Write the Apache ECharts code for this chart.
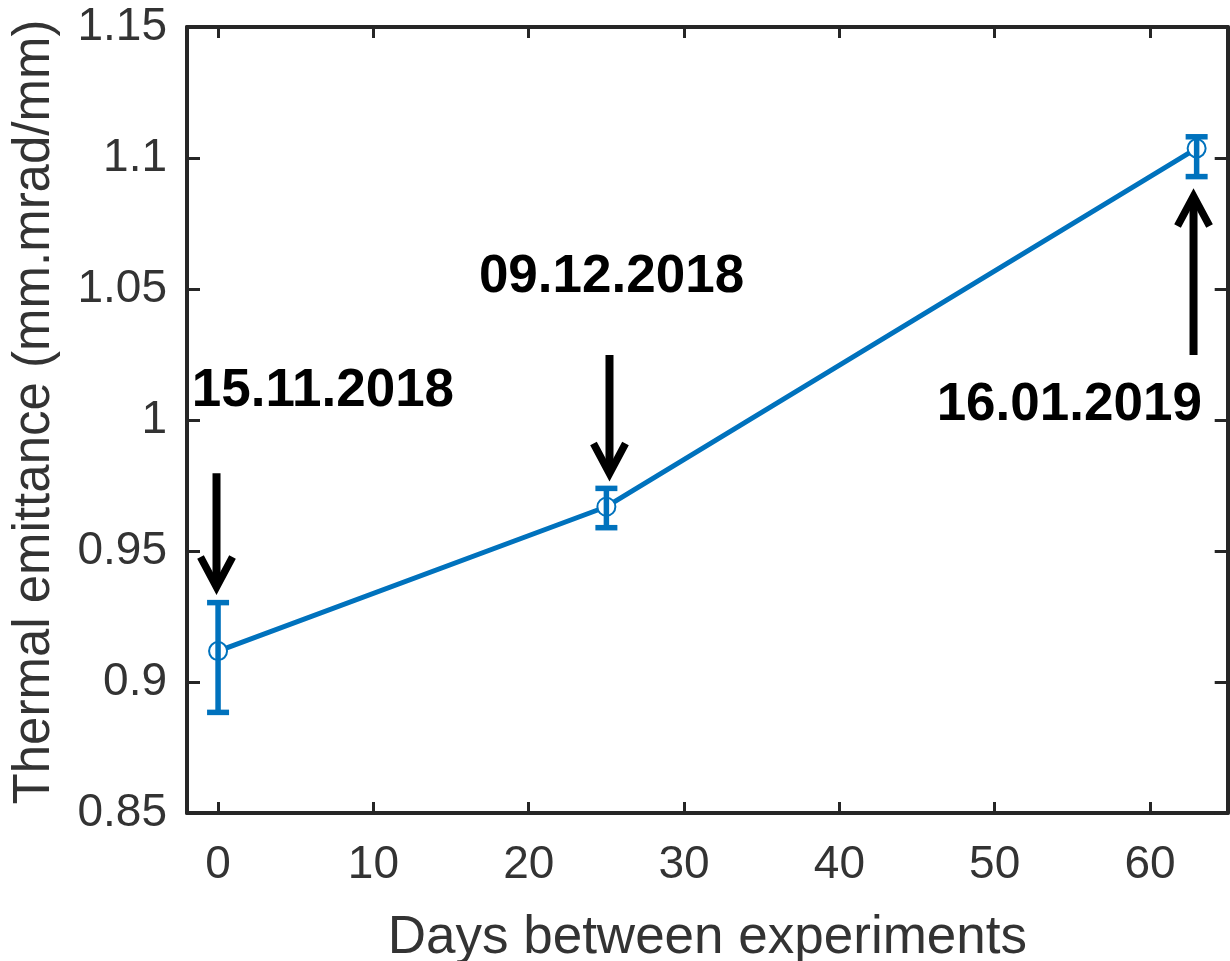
<!DOCTYPE html>
<html>
<head>
<meta charset="utf-8">
<script src="https://cdn.jsdelivr.net/npm/echarts@6/dist/echarts.min.js"></script>
<style>
  html, body { margin: 0; padding: 0; background: #ffffff; }
  #chart { width: 1230px; height: 961px; }
</style>
</head>
<body>
<div id="chart"></div>
<script>
// Measured thermal emittance versus days since the first experiment
const days = [0, 25, 63];
const emittance = [0.9118, 0.9669, 1.1037];
const errLow = [0.8884, 0.9589, 1.0929];
const errHigh = [0.9303, 0.9739, 1.1081];

// Date annotations (arrow x, arrow start, arrow tip, text x, text y), in data units
const noteLabels = ['15.11.2018', '09.12.2018', '16.01.2019'];
const noteArrowX = [-0.1, 25.2, 62.8];
const noteArrowFrom = [0.9797, 1.0248, 1.0248];
const noteArrowTo = [0.9351, 0.9784, 1.0866];
const noteTextX = [6.75, 25.33, 54.8];
const noteTextY = [1.011, 1.0546, 1.0054];

const FONT = "'Liberation Sans', Arial, Helvetica, sans-serif";
const AXIS_COLOR = '#262626';
const TEXT_COLOR = '#333333';
const BLUE = '#0072BD';

const chart = echarts.init(document.getElementById('chart'), null, { renderer: 'canvas' });

const axisLineStyle = { color: AXIS_COLOR, width: 4 };
const tickStyle = { color: AXIS_COLOR, width: 3 };

function xAxisBase(position) {
  return {
    type: 'value',
    position: position,
    min: -2,
    max: 65,
    splitNumber: 7,
    splitLine: { show: false },
    axisLine: { show: true, onZero: false, lineStyle: axisLineStyle },
    axisTick: { show: true, inside: true, length: 11, lineStyle: tickStyle }
  };
}

function yAxisBase(position) {
  return {
    type: 'value',
    position: position,
    min: 0.85,
    max: 1.15,
    interval: 0.05,
    splitLine: { show: false },
    axisLine: { show: true, onZero: false, lineStyle: axisLineStyle },
    axisTick: { show: true, inside: true, length: 13, lineStyle: tickStyle }
  };
}

const option = {
  backgroundColor: '#ffffff',
  animation: false,
  grid: { left: 187, right: 2.3, top: 27, bottom: 148, containLabel: false, outerBoundsMode: 'none' },
  xAxis: [
    Object.assign(xAxisBase('bottom'), {
      name: 'Days between experiments',
      nameLocation: 'middle',
      nameGap: 99,
      nameTextStyle: { fontSize: 53, color: TEXT_COLOR, fontFamily: FONT },
      axisLabel: {
        show: true,
        margin: 29,
        fontSize: 46,
        color: TEXT_COLOR,
        fontFamily: FONT,
        showMinLabel: false,
        showMaxLabel: false,
        formatter: function (v) { return v % 10 === 0 ? String(v) : ''; }
      }
    }),
    Object.assign(xAxisBase('top'), { axisLabel: { show: false } })
  ],
  yAxis: [
    Object.assign(yAxisBase('left'), {
      name: 'Thermal emittance (mm.mrad/mm)',
      nameLocation: 'middle',
      nameGap: 127,
      nameTextStyle: { fontSize: 51, color: TEXT_COLOR, fontFamily: FONT, padding: [0, 0, 0, 16] },
      axisLabel: {
        show: true,
        margin: 20,
        fontSize: 46,
        color: TEXT_COLOR,
        fontFamily: FONT,
        formatter: function (v) { return String(parseFloat(v.toFixed(2))); }
      }
    }),
    Object.assign(yAxisBase('right'), { axisLabel: { show: false } })
  ],
  series: [
    {
      // connecting line with open circle markers
      type: 'line',
      xAxisIndex: 0,
      yAxisIndex: 0,
      data: days.map((d, i) => [d, emittance[i]]),
      symbol: 'emptyCircle',
      symbolSize: 18,
      lineStyle: { color: BLUE, width: 5 },
      itemStyle: { color: BLUE, borderColor: BLUE, borderWidth: 3.5 },
      z: 3
    },
    {
      // vertical error bars with caps
      type: 'custom',
      xAxisIndex: 0,
      yAxisIndex: 0,
      data: days.map((d, i) => [d, errLow[i], errHigh[i]]),
      encode: { x: 0, y: [1, 2] },
      z: 4,
      renderItem: function (params, api) {
        const x = api.value(0);
        const lo = api.coord([x, api.value(1)]);
        const hi = api.coord([x, api.value(2)]);
        const half = 11;
        const st = { stroke: BLUE, lineWidth: 5.5 };
        return {
          type: 'group',
          children: [
            { type: 'line', shape: { x1: lo[0], y1: lo[1], x2: hi[0], y2: hi[1] }, style: st },
            { type: 'line', shape: { x1: lo[0] - half, y1: lo[1], x2: lo[0] + half, y2: lo[1] }, style: st },
            { type: 'line', shape: { x1: hi[0] - half, y1: hi[1], x2: hi[0] + half, y2: hi[1] }, style: st }
          ]
        };
      }
    },
    {
      // date annotations with arrows
      type: 'custom',
      xAxisIndex: 0,
      yAxisIndex: 0,
      clip: false,
      z: 5,
      data: noteLabels.map((t, i) => [noteArrowX[i], noteArrowFrom[i], noteArrowTo[i], noteTextX[i], noteTextY[i], t]),
      renderItem: function (params, api) {
        const ax = api.value(0);
        const from = api.coord([ax, api.value(1)]);
        const tip = api.coord([ax, api.value(2)]);
        const txt = api.coord([api.value(3), api.value(4)]);
        const label = noteLabels[params.dataIndex];
        const dir = tip[1] > from[1] ? 1 : -1;
        const headLen = 33;
        const headHalf = 16;
        return {
          type: 'group',
          children: [
            {
              type: 'line',
              shape: { x1: from[0], y1: from[1], x2: tip[0], y2: tip[1] - dir * 5 },
              style: { stroke: '#000', lineWidth: 8 }
            },
            {
              type: 'polyline',
              shape: { points: [[tip[0] - headHalf, tip[1] - dir * headLen], [tip[0], tip[1] - dir * 3], [tip[0] + headHalf, tip[1] - dir * headLen]] },
              style: { stroke: '#000', lineWidth: 7.5, fill: null, lineJoin: 'miter', lineCap: 'butt' }
            },
            {
              type: 'text',
              style: {
                text: label,
                x: txt[0],
                y: txt[1],
                align: 'center',
                verticalAlign: 'middle',
                font: 'bold 53px ' + FONT,
                fill: '#000'
              }
            }
          ]
        };
      }
    }
  ]
};

chart.setOption(option);
</script>
</body>
</html>
